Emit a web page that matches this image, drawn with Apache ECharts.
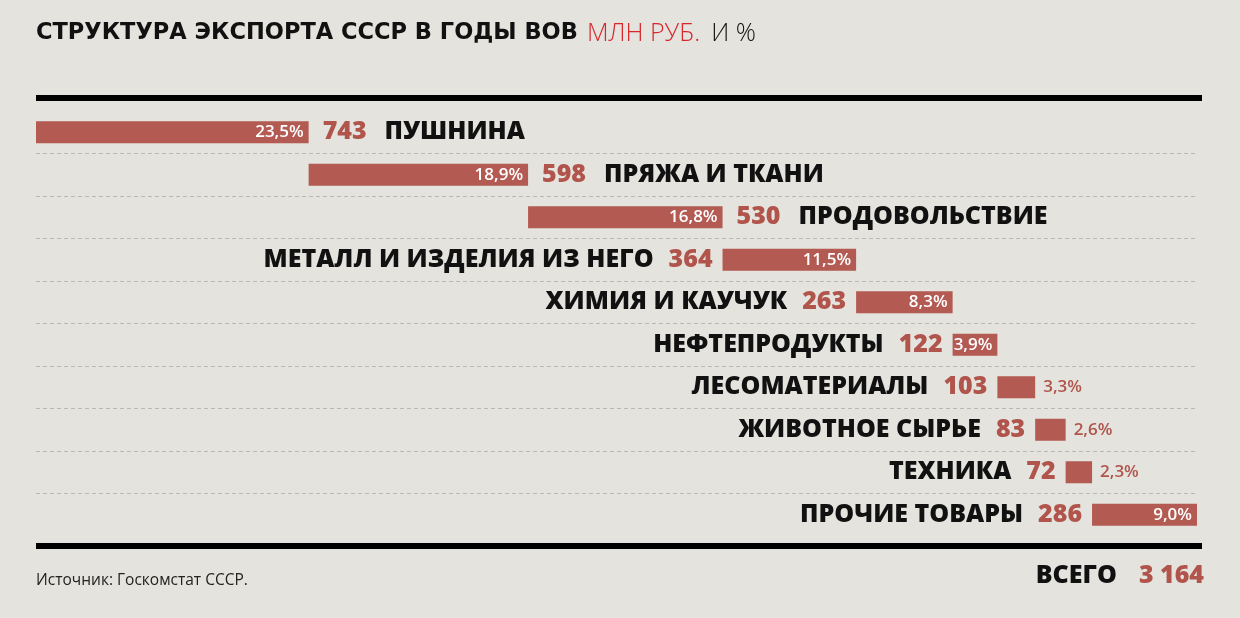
<!DOCTYPE html>
<html lang="ru">
<head>
    <meta charset="UTF-8">
    <title>Структура экспорта СССР</title>
    <style>
        html, body { margin: 0; padding: 0; background: #e4e3dd; }
        #main { width: 1240px; height: 618px; }
    </style>
    <script src="https://cdn.jsdelivr.net/npm/echarts@6/dist/echarts.min.js"></script>
</head>
<body>
<div id="main"></div>
<script>
    // данные (млн руб. и %)
    var categories = ['ПУШНИНА', 'ПРЯЖА И ТКАНИ', 'ПРОДОВОЛЬСТВИЕ', 'МЕТАЛЛ И ИЗДЕЛИЯ ИЗ НЕГО',
        'ХИМИЯ И КАУЧУК', 'НЕФТЕПРОДУКТЫ', 'ЛЕСОМАТЕРИАЛЫ', 'ЖИВОТНОЕ СЫРЬЕ', 'ТЕХНИКА', 'ПРОЧИЕ ТОВАРЫ'];
    var values = [743, 598, 530, 364, 263, 122, 103, 83, 72, 286];
    var percents = ['23,5%', '18,9%', '16,8%', '11,5%', '8,3%', '3,9%', '3,3%', '2,6%', '2,3%', '9,0%'];

    var RED = '#b35a52';
    var NUM = '#b0544c';
    var FONT = '"Open Sans", "Noto Sans", sans-serif';

    var total = values.reduce(function (a, b) { return a + b; }, 0);
    var totalText = String(total).replace(/\B(?=(\d{3})+(?!\d))/g, ' ');

    // ступеньки: основание, сама полоса, остаток до конца
    var baseData = [], barData = [], restData = [];
    var acc = 0;
    values.forEach(function (v, i) {
        var leftSide = i >= 3;
        var outside = v < 110 && i < 9;
        baseData.push({
            value: acc,
            label: { show: leftSide }
        });
        barData.push({
            value: v,
            label: { show: !outside }
        });
        acc += v;
        restData.push({
            value: total - acc,
            label: {
                show: !leftSide || outside,
                formatter: outside ? '{p|' + percents[i] + '}' : '{v|' + v + '}{n|' + categories[i] + '}',
                distance: outside ? 8 : 14
            }
        });
    });

    var nameStyle = { fontFamily: FONT, fontWeight: 800, fontSize: 25, color: '#111' };
    var pctStyle = { fontFamily: FONT, fontWeight: 600, fontSize: 17, color: NUM };

    var chartDom = document.getElementById('main');
    var myChart = echarts.init(chartDom);
    var option;

    option = {
        backgroundColor: '#e4e3dd',
        animation: false,
        title: [
            {
                left: 31, top: 16,
                text: '{a|СТРУКТУРА ЭКСПОРТА СССР В ГОДЫ ВОВ} {b|МЛН РУБ.} {c|И %}',
                textStyle: {
                    rich: {
                        a: { fontFamily: '"DejaVu Sans", sans-serif', fontWeight: 'bold', fontSize: 22.5, color: '#111' },
                        b: { fontFamily: FONT, fontWeight: 300, fontSize: 25, color: '#d9262c', padding: [0, 6, 0, 4] },
                        c: { fontFamily: FONT, fontWeight: 300, fontSize: 25, color: '#111' }
                    }
                }
            },
            {
                left: 31, top: 568,
                text: 'Источник: Госкомстат СССР.',
                textStyle: { fontFamily: FONT, fontWeight: 'normal', fontSize: 15.5, color: '#222' }
            },
            {
                right: 31, top: 558,
                text: '{n|ВСЕГО}{v|' + totalText + '}',
                textStyle: {
                    rich: {
                        n: { fontFamily: FONT, fontWeight: 800, fontSize: 25, color: '#111', padding: [0, 22, 0, 0] },
                        v: { fontFamily: FONT, fontWeight: 800, fontSize: 25, color: NUM }
                    }
                }
            }
        ],
        graphic: [
            { type: 'rect', left: 36, top: 95, shape: { width: 1166, height: 6 }, style: { fill: '#000' } },
            { type: 'rect', left: 36, top: 543, shape: { width: 1166, height: 6 }, style: { fill: '#000' } }
        ],
        grid: { left: 36, right: 43, top: 111, height: 425 },
        xAxis: {
            type: 'value', min: 0, max: total,
            show: false
        },
        yAxis: {
            type: 'category',
            data: categories,
            inverse: true,
            axisLine: { show: false },
            axisTick: { show: false },
            axisLabel: { show: false },
            splitLine: {
                show: true,
                showMinLine: false,
                showMaxLine: false,
                lineStyle: { color: '#b9b8b3', type: [4, 3], width: 1 }
            }
        },
        series: [
            {
                name: 'base', type: 'bar', stack: 'w', barWidth: 22,
                itemStyle: { color: 'transparent' },
                label: {
                    position: 'insideRight', distance: 10,
                    formatter: function (p) { return '{n|' + categories[p.dataIndex] + '}{v|' + values[p.dataIndex] + '}'; },
                    rich: {
                        n: nameStyle,
                        v: { fontFamily: FONT, fontWeight: 800, fontSize: 25, color: NUM, padding: [0, 0, 0, 15] }
                    }
                },
                data: baseData
            },
            {
                name: 'value', type: 'bar', stack: 'w', barWidth: 22,
                itemStyle: { color: RED },
                label: {
                    position: 'insideRight', distance: 5,
                    formatter: function (p) { return percents[p.dataIndex]; },
                    fontFamily: FONT, fontWeight: 600, fontSize: 17, color: '#fff'
                },
                data: barData
            },
            {
                name: 'rest', type: 'bar', stack: 'w', barWidth: 22,
                itemStyle: { color: 'transparent' },
                label: {
                    position: 'insideLeft',
                    rich: {
                        v: { fontFamily: FONT, fontWeight: 800, fontSize: 25, color: NUM, padding: [0, 18, 0, 0] },
                        n: nameStyle,
                        p: pctStyle
                    }
                },
                data: restData
            }
        ]
    };

    option && myChart.setOption(option);
</script>
</body>
</html>
